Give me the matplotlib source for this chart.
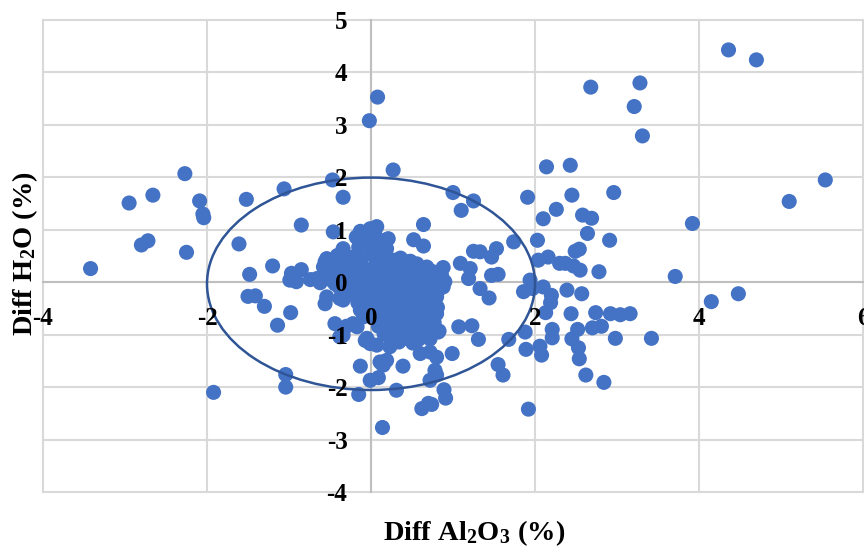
import matplotlib
matplotlib.use("Agg")
import matplotlib.pyplot as plt
from matplotlib.patches import Ellipse

plt.rcParams['font.family'] = ['Liberation Serif', 'DejaVu Serif']
plt.rcParams['font.weight'] = 'bold'
plt.rcParams['axes.unicode_minus'] = False
plt.rcParams['mathtext.fontset'] = 'custom'
plt.rcParams['mathtext.rm'] = 'Liberation Serif:bold'
plt.rcParams['mathtext.it'] = 'Liberation Serif:bold'
plt.rcParams['mathtext.bf'] = 'Liberation Serif:bold'

# outer points
al2o3_outer = [-3.42, -2.95, -2.66, -2.27, -2.09, -2.05, -2.04, -2.80, -2.72, -2.25,
               -1.52, -1.06, -0.85, -1.61, -1.20, -1.48, -0.97, -0.85, -0.91, -0.99,
               -1.50, -1.41, -1.30, -0.98, -1.14, -1.04, -1.04, -1.92,
               0.08, -0.02, 0.27, -0.47, -0.34,
               2.14, 1.00, 1.25, 1.10, 1.91, 2.26, 2.10, 1.74, 2.03, 1.53,
               1.25, 1.33, 1.47, 1.09, 0.88, 1.21, 1.19, 1.47, 1.55, 1.33,
               0.90, 0.82, 2.04, 2.16, 2.30, 1.94, 1.86, 2.10, 2.39, 2.20,
               2.43, 2.45, 2.96, 2.58, 2.69, 3.92, 2.64, 2.91, 2.54, 2.49,
               2.37, 2.47, 2.55, 2.78, 3.71, 2.57,
               4.36, 4.70, 2.68, 3.28, 3.21, 3.31, 5.54, 5.10,
               4.15, 4.48, 1.92, 2.84, 2.62, 2.54, 2.53, 2.98, 3.42, 2.45,
               2.52, 2.70, 2.81, 2.44, 2.74, 2.92, 3.04, 3.16, 2.13, 2.21,
               2.21, 2.06, 2.08, 1.89, 2.19, 1.68, 1.55, 1.61, 1.31, 0.99,
               1.07, 1.23, 0.89, 0.91, 0.74, 1.44, 0.83, 1.97, 1.88, 0.78,
               0.80, 0.78, 0.80,
               0.14, -0.13, -0.15, -0.01, 0.09, 0.15, 0.31, 0.39, 0.62, 0.70,
               0.72, -0.38, -0.44, -0.22, -0.54, -0.56, -0.34, -0.07, -0.01, 0.11,
               0.19, -0.30, -0.38]
h2o_outer = [0.26, 1.51, 1.66, 2.07, 1.55, 1.30, 1.23, 0.71, 0.79, 0.57,
             1.58, 1.78, 1.09, 0.73, 0.31, 0.15, 0.17, 0.24, 0.01, 0.04,
             -0.27, -0.26, -0.46, -0.58, -0.82, -1.76, -2.00, -2.10,
             3.53, 3.08, 2.14, 1.95, 1.62,
             2.20, 1.71, 1.55, 1.37, 1.62, 1.39, 1.21, 0.77, 0.80, 0.64,
             0.59, 0.58, 0.48, 0.36, 0.28, 0.26, 0.07, 0.13, 0.15, -0.12,
             0.01, -0.15, 0.42, 0.48, 0.36, 0.04, -0.18, -0.09, -0.15, -0.25,
             2.23, 1.66, 1.71, 1.28, 1.22, 1.12, 0.93, 0.80, 0.63, 0.59,
             0.36, 0.31, 0.23, 0.20, 0.11, -0.22,
             4.43, 4.24, 3.72, 3.80, 3.35, 2.79, 1.95, 1.54,
             -0.37, -0.22, -2.42, -1.91, -1.77, -1.46, -1.25, -1.07, -1.07, -1.08,
             -0.90, -0.87, -0.84, -0.60, -0.58, -0.60, -0.62, -0.60, -0.58, -0.90,
             -1.06, -1.22, -1.39, -1.28, -0.39, -1.09, -1.57, -1.77, -1.09, -1.36,
             -0.85, -0.83, -2.05, -2.21, -2.33, -0.30, -0.93, -0.12, -0.95, -0.53,
             -0.60, -1.68, -1.77,
             -2.77, -1.60, -2.14, -1.87, -1.82, -1.58, -2.06, -1.60, -2.41, -2.31,
             -1.87, -1.04, -0.79, -0.79, -0.28, -0.41, -0.34, -1.11, -1.17, -1.52,
             -1.49, -0.84, -0.31]

# points around and inside the dense cluster near the origin
al2o3_core = [-0.46, 0.64, 0.52, 0.64, -0.34, -0.13, 0.07, 0.17, -0.05, 0.19,
              -0.54, -0.66, 0.44, 0.68, -0.01, 0.21, 0.13, -0.18, -0.15, -0.56,
              -0.58, -0.64, -0.46, -0.62, -0.74, 0.27,
              -0.13, -0.09, -0.34, -0.17, -0.05, 0.07, 0.23, 0.39, 0.13, 0.60,
              0.72, 0.80, 0.82, 0.80, 0.88, 0.86,
              -0.41, -0.22, 0.02, 0.18, 0.36,
              -0.45, -0.31, -0.12, 0.06, 0.21, 0.34, 0.56,
              -0.49, -0.36, -0.19, -0.04, 0.11, 0.26, 0.41, 0.59, 0.74,
              -0.51, -0.33, -0.21, -0.06, 0.09, 0.24, 0.42, 0.54, 0.71,
              -0.39, -0.26, -0.11, 0.04, 0.21, 0.36, 0.49, 0.66, 0.79,
              -0.21, -0.04, 0.11, 0.26, 0.39, 0.56, 0.69,
              -0.16, 0.01, 0.14, 0.31, 0.46, 0.61, 0.76,
              0.02, 0.16, 0.29, 0.44, 0.59, 0.71,
              0.06, 0.19, 0.36, 0.51, 0.66,
              0.09, 0.26, 0.41, 0.54, 0.69,
              0.16, 0.31, 0.49, 0.64,
              0.34, 0.51,
              -0.32, -0.14, 0.08, 0.28, 0.48,
              -0.42, -0.27, -0.12, 0.03, 0.17, 0.32, 0.48, 0.64,
              -0.43, -0.28, -0.13, 0.02, 0.17, 0.33, 0.48, 0.63, 0.79,
              -0.44, -0.28, -0.12, 0.03, 0.18, 0.33, 0.47, 0.62, 0.77,
              -0.33, -0.17, -0.02, 0.13, 0.28, 0.43, 0.58, 0.73,
              -0.13, 0.03, 0.18, 0.33, 0.48, 0.63, 0.77,
              -0.08, 0.08, 0.23, 0.38, 0.53, 0.67, 0.81,
              0.11, 0.27, 0.42, 0.57, 0.73,
              0.13, 0.28, 0.43, 0.61, 0.77,
              0.20, 0.35, 0.47, 0.61,
              0.24, 0.42, 0.58, 0.72,
              -0.10, 0.05, 0.10, -0.05, 0.00]
h2o_core = [0.96, 1.10, 0.81, 0.69, 0.64, 0.97, 1.06, 0.80, 0.67, 0.64,
            0.45, 0.07, 0.39, 0.29, 1.02, 0.83, 0.58, 0.86, 0.67, 0.39,
            0.29, 0.04, 0.05, -0.01, 0.05, 0.26,
            -0.53, -0.66, -1.01, -0.85, -1.07, -1.20, -1.23, -1.04, -1.55, -1.36,
            -1.33, -1.43, -0.95, -0.28, -0.09, 0.13,
            0.51, 0.48, 0.52, 0.49, 0.46,
            0.36, 0.34, 0.37, 0.33, 0.36, 0.32, 0.35,
            0.21, 0.19, 0.22, 0.18, 0.21, 0.19, 0.22, 0.18, 0.21,
            0.06, 0.04, 0.07, 0.03, 0.06, 0.04, 0.07, 0.03, 0.06,
            -0.09, -0.11, -0.08, -0.12, -0.09, -0.11, -0.08, -0.12, -0.09,
            -0.24, -0.26, -0.23, -0.27, -0.24, -0.26, -0.23,
            -0.39, -0.41, -0.38, -0.42, -0.39, -0.41, -0.38,
            -0.54, -0.56, -0.53, -0.57, -0.54, -0.56,
            -0.69, -0.71, -0.68, -0.72, -0.69,
            -0.84, -0.86, -0.83, -0.87, -0.84,
            -0.99, -1.01, -0.98, -1.02,
            -1.14, -1.16,
            0.42, 0.43, 0.41, 0.42, 0.40,
            0.27, 0.28, 0.26, 0.27, 0.28, 0.26, 0.27, 0.25,
            0.12, 0.13, 0.11, 0.12, 0.13, 0.11, 0.12, 0.13, 0.11,
            -0.03, -0.02, -0.04, -0.03, -0.02, -0.04, -0.03, -0.02, -0.04,
            -0.18, -0.17, -0.19, -0.18, -0.17, -0.19, -0.18, -0.17,
            -0.33, -0.32, -0.34, -0.33, -0.32, -0.34, -0.33,
            -0.48, -0.47, -0.49, -0.48, -0.47, -0.49, -0.48,
            -0.63, -0.62, -0.64, -0.63, -0.62,
            -0.78, -0.77, -0.79, -0.78, -0.77,
            -0.93, -0.92, -0.94, -0.93,
            -1.08, -1.07, -1.09, -1.08,
            0.85, 0.90, 0.75, 0.78, 0.60]

al2o3_diff = al2o3_outer + al2o3_core
h2o_diff = h2o_outer + h2o_core

x_ticks = [-4, -2, 0, 2, 4, 6]
y_ticks = [-4, -3, -2, -1, 0, 1, 2, 3, 4, 5]

fig = plt.figure(figsize=(8.64, 5.52), dpi=100)
ax = fig.add_axes([43 / 864, 60 / 552, 820 / 864, 472 / 552])

# gridlines drawn by hand so the tick labels can sit on top of the points
for xv in x_ticks:
    ax.axvline(xv, color='#d9d9d9', lw=1.5, zorder=0, clip_on=False)
for yv in y_ticks:
    ax.axhline(yv, color='#d9d9d9', lw=1.5, zorder=0, clip_on=False)

ax.scatter(al2o3_diff, h2o_diff, s=118, color='#4472C4', edgecolors='none', zorder=2)

ell = Ellipse((0, -0.03), 4.0, 4.05, fill=False, edgecolor='#2F5597', lw=1.8, zorder=3)
ax.add_patch(ell)

ax.set_xlim(-4, 6)
ax.set_ylim(-4, 5)
ax.set_xticks(x_ticks)
ax.set_yticks(y_ticks)

for s in ['top', 'right']:
    ax.spines[s].set_visible(False)
ax.spines['left'].set_position(('data', 0))
ax.spines['bottom'].set_position(('data', 0))
ax.spines['left'].set_color('#bfbfbf')
ax.spines['bottom'].set_color('#bfbfbf')
ax.spines['left'].set_linewidth(1.5)
ax.spines['bottom'].set_linewidth(1.5)
ax.spines['left'].set_zorder(1)
ax.spines['bottom'].set_zorder(1)

ax.tick_params(axis='x', length=0, pad=18, labelsize=18)
ax.tick_params(axis='y', length=0, pad=17, labelsize=18)
ax.xaxis.set_zorder(5)
ax.yaxis.set_zorder(5)

ax.set_xlabel(r'Diff Al$_2$O$_3$ (%)', fontsize=20.5, fontweight='bold')
ax.set_ylabel(r'Diff H$_2$O (%)', fontsize=20.5, fontweight='bold')
ax.xaxis.set_label_coords(0.526, -0.087)
ax.yaxis.set_label_coords(-0.022, 0.506)
ax.xaxis.label.set_va('center')
ax.yaxis.label.set_va('center')

fig.savefig('out.png', dpi=100)
